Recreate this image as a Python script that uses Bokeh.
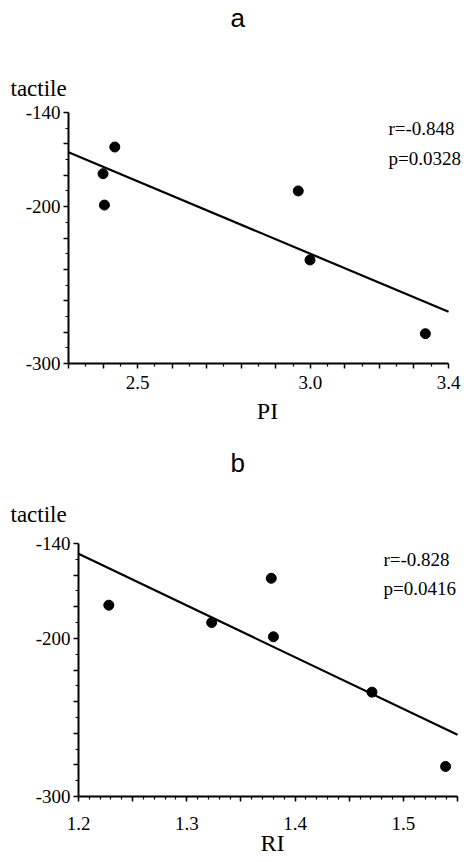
import numpy as np
from bokeh.plotting import figure
from bokeh.layouts import column
from bokeh.models import Label, Title, FixedTicker, CustomJSTickFormatter, Range1d
from bokeh.embed import file_html
from bokeh.resources import INLINE

# ---- data ----
tactile = [-162, -179, -190, -199, -234, -281]
pi_vals = [2.434, 2.400, 2.965, 2.404, 2.999, 3.333]
ri_vals = [1.378, 1.228, 1.323, 1.380, 1.471, 1.539]

stats_a = ["r=-0.848", "p=0.0328"]
stats_b = ["r=-0.828", "p=0.0416"]

y_range = (-300, -140)
y_major = [-140, -160, -180, -200, -220, -240, -260, -280, -300]
y_minor = [-150, -170, -190, -210, -230, -250, -270, -290]
y_labels = [-140, -200, -300]

xa_bounds = (2.3, 3.4)
xa_major = [2.3, 2.4, 2.5, 2.6, 2.7, 2.8, 2.9, 3.0, 3.1, 3.2, 3.3, 3.4]
xa_minor = [2.35, 2.45, 2.55, 2.65, 2.75, 2.85, 2.95, 3.05, 3.15, 3.25, 3.35]
xa_labels = [2.5, 3.0, 3.4]

xb_bounds = (1.2, 1.55)
xb_major = [1.2, 1.25, 1.3, 1.35, 1.4, 1.45, 1.5, 1.55]
xb_minor = [round(1.2 + 0.01 * i, 2) for i in range(36)]
xb_labels = [1.2, 1.3, 1.4, 1.5]

SERIF = "Liberation Serif"
SANS = "Liberation Sans"


def fmt(shown, digits):
    return CustomJSTickFormatter(
        args=dict(shown=shown, digits=digits),
        code="return shown.some(s => Math.abs(s - tick) < 1e-6) ? tick.toFixed(digits) : '';",
    )


def style_axes(p, xb, xmaj, xmin, xlab, xname, x_label_standoff, x_axis_standoff):
    for ax in (p.xaxis[0], p.yaxis[0]):
        ax.axis_line_width = 2
        ax.major_tick_line_width = 1.5
        ax.minor_tick_line_width = 1.2
        ax.major_tick_in = 0
        ax.minor_tick_in = 0
        ax.major_tick_out = 5
        ax.minor_tick_out = 3
        ax.major_label_text_font = SERIF
        ax.major_label_text_font_size = "19px"
        ax.major_label_text_color = "black"
        ax.axis_line_color = "black"
        ax.major_tick_line_color = "black"
        ax.minor_tick_line_color = "black"
    p.yaxis[0].ticker = FixedTicker(ticks=y_major, minor_ticks=y_minor)
    p.yaxis[0].formatter = fmt(y_labels, 0)
    p.yaxis[0].major_label_standoff = 3
    p.xaxis[0].bounds = xb
    p.xaxis[0].ticker = FixedTicker(ticks=xmaj, minor_ticks=xmin)
    p.xaxis[0].formatter = fmt(xlab, 1)
    p.xaxis[0].major_label_standoff = x_label_standoff
    p.xaxis[0].axis_label = xname
    p.xaxis[0].axis_label_text_font = SERIF
    p.xaxis[0].axis_label_text_font_style = "normal"
    p.xaxis[0].axis_label_text_font_size = "24px"
    p.xaxis[0].axis_label_text_color = "black"
    p.xaxis[0].axis_label_standoff = x_axis_standoff


def panel(xvals, xb, xend, xmaj, xmin, xlab, xname, letter, stats,
          height, left, top, bottom, letter_off, letter_standoff, tac_off, tac_standoff,
          spacer_standoff, stat_x, stat_y, x_label_standoff, x_axis_standoff):
    p = figure(width=466, height=height, output_backend="svg", toolbar_location=None,
               title_location=None, frame_align=False,
               x_range=Range1d(xb[0], xend), y_range=Range1d(*y_range),
               min_border_left=left, min_border_right=0,
               min_border_top=top, min_border_bottom=bottom)
    p.outline_line_color = None
    p.xgrid.visible = False
    p.ygrid.visible = False
    p.background_fill_color = "white"
    p.border_fill_color = "white"
    style_axes(p, xb, xmaj, xmin, xlab, xname, x_label_standoff, x_axis_standoff)

    # regression line computed from the data
    slope, intercept = np.polyfit(xvals, tactile, 1)
    lx = np.array(xb)
    p.line(lx, slope * lx + intercept, line_color="black", line_width=2.2)
    p.scatter(xvals, tactile, size=10, color="black")

    p.add_layout(Title(text="tactile", align="left", offset=tac_off, standoff=tac_standoff,
                       text_font=SERIF, text_font_size="23px", text_font_style="normal",
                       text_color="black"), "above")
    if spacer_standoff is not None:
        p.add_layout(Title(text=" ", align="left", standoff=spacer_standoff,
                           text_font=SANS, text_font_size="10px"), "above")
    p.add_layout(Title(text=letter, align="left", offset=letter_off, standoff=letter_standoff,
                       text_font=SANS, text_font_size="26px", text_font_style="normal",
                       text_color="black"), "above")
    for i, s in enumerate(stats):
        p.add_layout(Label(x=stat_x, y=stat_y[i], x_units="screen", y_units="screen",
                           text=s, text_font=SERIF, text_font_size="19px",
                           text_align="left", text_baseline="middle", text_color="black"))
    return p


p1 = panel(pi_vals, xa_bounds, 3.452, xa_major, xa_minor, xa_labels, "PI", "a", stats_a,
           height=438, left=68, top=112, bottom=75,
           letter_off=162, letter_standoff=0, tac_off=-58, tac_standoff=23,
           spacer_standoff=17,
           stat_x=320, stat_y=[235, 205], x_label_standoff=7, x_axis_standoff=6)
p2 = panel(ri_vals, xb_bounds, 1.5583, xb_major, xb_minor, xb_labels, "RI", "b", stats_b,
           height=420, left=78, top=105, bottom=62,
           letter_off=152, letter_standoff=11, tac_off=-68, tac_standoff=33,
           spacer_standoff=None,
           stat_x=305, stat_y=[237, 208], x_label_standoff=15, x_axis_standoff=-3)

layout = column(p1, p2, spacing=0)
open("out.html", "w").write(file_html(layout, INLINE))
